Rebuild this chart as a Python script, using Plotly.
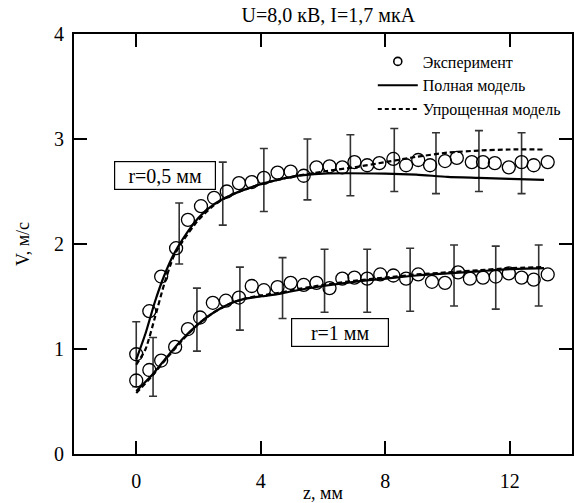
import plotly.graph_objects as go

# Measured velocity, r = 0.5 mm
z_exp_05 = [0, 0.42, 0.8, 1.28, 1.66, 2.08, 2.5, 2.91, 3.3, 3.71, 4.1, 4.54, 4.96,
            5.38, 5.79, 6.21, 6.62, 7.01, 7.42, 7.81, 8.26, 8.67, 9.06, 9.44, 9.92,
            10.3, 10.78, 11.14, 11.52, 11.97, 12.38, 12.77, 13.22]
v_exp_05 = [0.95, 1.36, 1.69, 1.96, 2.23, 2.36, 2.44, 2.50, 2.58, 2.59, 2.63, 2.68, 2.69,
            2.65, 2.73, 2.74, 2.73, 2.78, 2.75, 2.77, 2.81, 2.75, 2.80, 2.75, 2.79,
            2.82, 2.78, 2.78, 2.77, 2.73, 2.78, 2.75, 2.78]

# Measured velocity, r = 1 mm
z_exp_1 = [0, 0.42, 0.8, 1.25, 1.66, 2.05, 2.46, 2.88, 3.3, 3.71, 4.1, 4.54, 4.96,
           5.38, 5.79, 6.21, 6.62, 7.01, 7.42, 7.84, 8.26, 8.67, 9.06, 9.5, 9.92,
           10.34, 10.72, 11.14, 11.55, 11.97, 12.38, 12.77, 13.22]
v_exp_1 = [0.70, 0.80, 0.89, 1.02, 1.19, 1.30, 1.44, 1.46, 1.49, 1.60, 1.56, 1.59, 1.63,
           1.61, 1.63, 1.58, 1.67, 1.68, 1.67, 1.71, 1.70, 1.67, 1.71, 1.64, 1.63,
           1.73, 1.67, 1.68, 1.69, 1.72, 1.68, 1.66, 1.71]

# Error bars (centre and half-width)
z_err_05 = [0, 1.38, 2.78, 4.10, 5.50, 6.88, 8.29, 9.63, 11.01, 12.38]
v_err_05 = [0.95, 2.10, 2.48, 2.61, 2.71, 2.75, 2.80, 2.77, 2.79, 2.77]
e_err_05 = [0.31, 0.29, 0.30, 0.30, 0.29, 0.29, 0.30, 0.29, 0.29, 0.29]

z_err_1 = [0.54, 1.95, 3.33, 4.70, 6.05, 7.42, 8.80, 10.21, 11.55, 12.93]
v_err_1 = [0.83, 1.28, 1.48, 1.58, 1.65, 1.65, 1.66, 1.70, 1.68, 1.70]
e_err_1 = [0.28, 0.30, 0.30, 0.29, 0.30, 0.30, 0.30, 0.29, 0.30, 0.29]

# Full model
z_full_05 = [0, 0.3, 0.6, 0.9, 1.2, 1.5, 2.0, 2.5, 3.0, 3.5, 4.0, 5.0, 6.0, 8.0, 9.0, 10.0, 11.0, 12.0, 13.1]
v_full_05 = [0.90, 1.15, 1.45, 1.70, 1.90, 2.05, 2.25, 2.38, 2.46, 2.52, 2.57, 2.64, 2.67, 2.67, 2.66, 2.64, 2.63, 2.62, 2.61]
z_full_1 = [0, 0.5, 1.0, 1.5, 2.0, 2.5, 3.0, 3.5, 4.0, 4.5, 5.0, 6.0, 7.0, 8.0, 9.0, 10.0, 11.0, 12.0, 13.1]
v_full_1 = [0.60, 0.75, 0.93, 1.10, 1.24, 1.35, 1.43, 1.48, 1.50, 1.52, 1.55, 1.60, 1.64, 1.67, 1.70, 1.72, 1.74, 1.76, 1.77]

# Simplified model
z_simp_05 = [0, 0.3, 0.6, 0.9, 1.2, 1.5, 2.0, 2.5, 3.0, 4.0, 5.0, 6.0, 7.0, 8.0, 9.0, 10.0, 11.0, 12.0, 13.1]
v_simp_05 = [0.85, 1.00, 1.30, 1.62, 1.88, 2.03, 2.23, 2.37, 2.46, 2.57, 2.64, 2.69, 2.73, 2.78, 2.83, 2.87, 2.89, 2.90, 2.90]
z_simp_1 = [0, 0.5, 1.0, 1.5, 2.0, 2.5, 3.0, 3.5, 4.0, 4.5, 5.0, 6.0, 7.0, 8.0, 9.0, 10.0, 11.0, 12.0, 13.1]
v_simp_1 = [0.58, 0.74, 0.92, 1.09, 1.24, 1.35, 1.43, 1.48, 1.51, 1.53, 1.56, 1.61, 1.65, 1.68, 1.71, 1.73, 1.75, 1.77, 1.78]

x_ticks = [0, 4, 8, 12]
y_ticks = [0, 1, 2, 3, 4]

FONT = "Liberation Serif, Times New Roman, serif"
INK = "black"

fig = go.Figure()

# legend-only entries
fig.add_trace(go.Scatter(x=[None], y=[None], mode="markers", name="Эксперимент",
                         marker=dict(symbol="circle-open", size=8, color=INK, line=dict(width=1.6))))
fig.add_trace(go.Scatter(x=[None], y=[None], mode="lines", name="Полная модель",
                         line=dict(color=INK, width=2)))
fig.add_trace(go.Scatter(x=[None], y=[None], mode="lines", name="Упрощенная модель",
                         line=dict(color=INK, width=2, dash="4px,3px")))

for ze, ve, ee in [(z_err_05, v_err_05, e_err_05), (z_err_1, v_err_1, e_err_1)]:
    fig.add_trace(go.Scatter(x=ze, y=ve, mode="markers", showlegend=False,
                             marker=dict(size=0, color="rgba(0,0,0,0)"),
                             error_y=dict(type="data", array=ee, visible=True,
                                          color="#333333", thickness=1.6, width=4)))

for zf, vf in [(z_full_05, v_full_05), (z_full_1, v_full_1)]:
    fig.add_trace(go.Scatter(x=zf, y=vf, mode="lines", showlegend=False,
                             line=dict(color=INK, width=2.2, shape="spline", smoothing=0.6)))

for zs, vs in [(z_simp_05, v_simp_05), (z_simp_1, v_simp_1)]:
    fig.add_trace(go.Scatter(x=zs, y=vs, mode="lines", showlegend=False,
                             line=dict(color=INK, width=2.2, dash="5px,3px", shape="spline", smoothing=0.6)))

for zx, vx in [(z_exp_05, v_exp_05), (z_exp_1, v_exp_1)]:
    fig.add_trace(go.Scatter(x=zx, y=vx, mode="markers", showlegend=False,
                             marker=dict(symbol="circle-open", size=13, color=INK, line=dict(width=1.3))))

fig.add_annotation(x=0.93, y=2.65, text="r=0,5 мм", showarrow=False,
                   font=dict(family=FONT, size=20, color=INK),
                   bordercolor=INK, borderwidth=1.2, bgcolor="white", width=98, height=25)
fig.add_annotation(x=6.53, y=1.16, text="r=1 мм", showarrow=False,
                   font=dict(family=FONT, size=20, color=INK),
                   bordercolor=INK, borderwidth=1.2, bgcolor="white", width=94, height=25)

axis_common = dict(showline=True, linecolor=INK, linewidth=2, mirror="ticks",
                   ticks="inside", ticklen=13, tickwidth=1.8, tickcolor=INK,
                   showgrid=False, zeroline=False, automargin=False,
                   tickfont=dict(family=FONT, size=20, color=INK))

fig.update_xaxes(range=[-2, 14], tickvals=x_ticks, ticktext=[str(t) for t in x_ticks],
                 title=dict(text="z, мм", font=dict(family=FONT, size=18, color=INK), standoff=2),
                 ticklabelstandoff=8, **axis_common)
fig.update_yaxes(range=[0, 4], tickvals=y_ticks, ticktext=[str(t) for t in y_ticks],
                 title=dict(text="V, м/с", font=dict(family=FONT, size=18, color=INK), standoff=20),
                 ticklabelstandoff=4, **axis_common)

fig.update_layout(
    width=574, height=503,
    margin=dict(l=74, r=2, t=34, b=49),
    paper_bgcolor="white", plot_bgcolor="white",
    title=dict(text="U=8,0 кВ, I=1,7 мкА", x=0.572, xanchor="center", y=0.97, yanchor="middle",
               font=dict(family=FONT, size=20, color=INK)),
    legend=dict(x=0.60, y=0.975, xanchor="left", yanchor="top",
                bgcolor="rgba(0,0,0,0)", borderwidth=0,
                font=dict(family=FONT, size=16, color=INK),
                tracegroupgap=0, itemwidth=40),
    showlegend=True,
)

fig.write_html("out.html")
